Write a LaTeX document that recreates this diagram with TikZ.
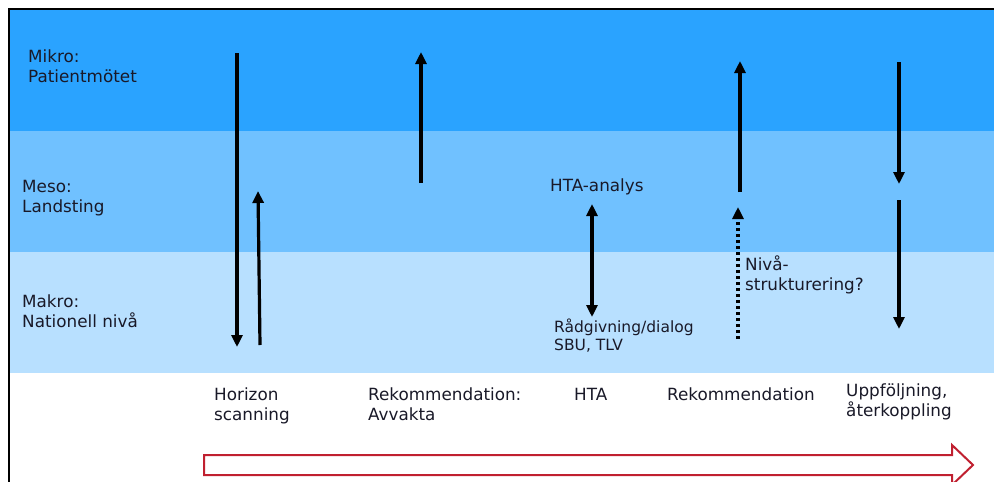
\documentclass[tikz,border=0pt]{standalone}
\usepackage{fontspec}
\setmainfont{DejaVu Sans}
\usetikzlibrary{arrows.meta}
\definecolor{mikroblue}{RGB}{42,163,255}
\definecolor{mesoblue}{RGB}{112,193,255}
\definecolor{makroblue}{RGB}{184,224,255}
\definecolor{flowred}{RGB}{192,32,48}
\definecolor{labeltext}{RGB}{25,25,40}
\tikzset{
  level/.style={anchor=base west,align=left,inner sep=0pt,text=labeltext,
    font=\fontsize{16.8}{20}\selectfont},
  small/.style={level,font=\fontsize{15.5}{18}\selectfont},
  flow/.style={line width=3.2pt},
}
\begin{document}
\begin{tikzpicture}[x=1pt,y=-1pt,>={Triangle[width=11pt,length=12pt]}]
\useasboundingbox (0,0) rectangle (994,482);
\fill[mikroblue] (10,10) rectangle (994,131);
\fill[mesoblue] (10,131) rectangle (994,252);
\fill[makroblue] (10,252) rectangle (994,373);
\draw[line width=2pt] (9,482) -- (9,9) -- (994,9);

% base = last line
\node[level] (mikro) at (28,82) {Mikro:\\Patientmötet};
\node[level] (meso) at (22,212) {Meso:\\Landsting};
\node[level] (makro) at (22,327) {Makro:\\Nationell nivå};

\node[level] (analys) at (550,191) {HTA-analys};
\node[small] (dialog) at (554,350) {Rådgivning/dialog\\SBU, TLV};
\node[level] (niva) at (745,290) {Nivå-\\strukturering?};

\node[level] (horizon) at (214,420) {Horizon\\scanning};
\node[level] (avvakta) at (368,420) {Rekommendation:\\Avvakta};
\node[level] (hta) at (574,400) {HTA};
\node[level] (rek) at (667,400) {Rekommendation};
\node[level] (uppf) at (846,416) {Uppföljning,\\återkoppling};

\coordinate (scan a) at (237,53);
\coordinate (scan b) at (237,347);
\coordinate (scan c) at (260,345);
\coordinate (scan d) at (258,191);
\coordinate (avv a) at (421,183);
\coordinate (avv b) at (421,52);
\coordinate (hta a) at (592,204);
\coordinate (hta b) at (592,317);
\coordinate (rek a) at (740,192);
\coordinate (rek b) at (740,61);
\coordinate (rek c) at (738,339);
\coordinate (rek d) at (738,207);
\coordinate (upp a) at (899,62);
\coordinate (upp b) at (899,184);
\coordinate (upp c) at (899,200);
\coordinate (upp d) at (899,329);

\draw[flow,->] (scan a) -- (scan b);
\draw[flow,->] (scan c) -- (scan d);
\draw[flow,->] (avv a) -- (avv b);
\draw[flow,<->] (hta a) -- (hta b);
\draw[flow,->] (rek a) -- (rek b);
\draw[flow,->,dash pattern=on 3pt off 3pt] (rek c) -- (rek d);
\draw[flow,->] (upp a) -- (upp b);
\draw[flow,->] (upp c) -- (upp d);

\draw[flowred,line width=2pt,fill=white,line join=miter]
  (204,455) -- (952,455) -- (952,445) -- (973,465) -- (952,485)
  -- (952,475) -- (204,475) -- cycle;
\end{tikzpicture}
\end{document}
